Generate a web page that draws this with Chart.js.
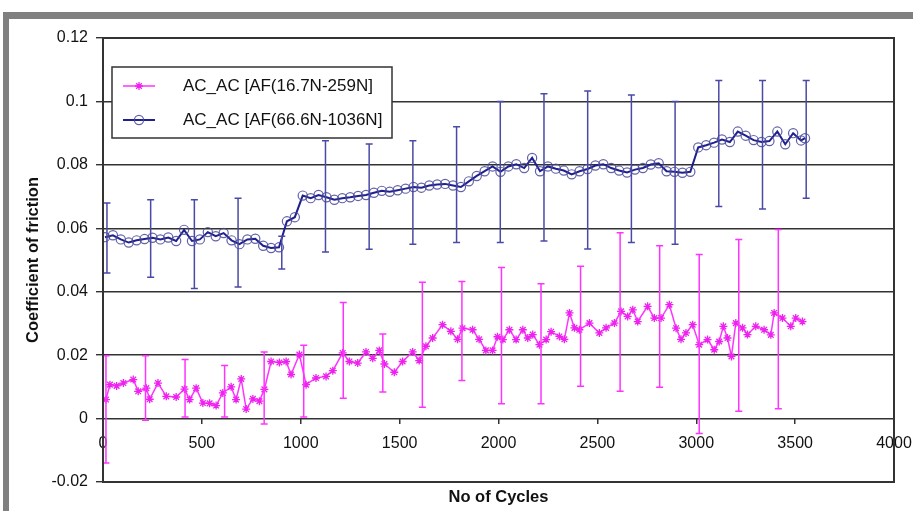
<!DOCTYPE html>
<html>
<head>
<meta charset="utf-8">
<script src="https://cdn.jsdelivr.net/npm/chart.js@4.4.0/dist/chart.umd.min.js"></script>
<style>
  body { margin: 0; background: #fff; }
  #frame { position: absolute; left: 3px; top: 12px; right: 0; bottom: 0;
           border-top: 7px solid #808080; border-left: 6px solid #808080; }
  #chart { position: absolute; left: 0; top: 0; }
</style>
</head>
<body>
<div id="frame"></div>
<canvas id="chart" width="913" height="511"></canvas>
<script>
// AC_AC [AF(16.7N-259N] -- pink series
let pinkCycles = [15,35,69,103,153,178,219,236,278,320,370,412,438,471,505,539,572,606,648,673,
  699,724,758,791,816,850,892,926,951,993,1027,1077,1128,1162,1212,1246,1288,1330,1364,1397,
  1423,1473,1515,1566,1599,1633,1667,1717,1759,1793,1818,1869,1902,1936,1970,1995,2022,2055,2089,2123,
  2148,2173,2207,2241,2266,2308,2333,2359,2384,2409,2460,2510,2544,2586,2620,2653,2679,2704,2754,2788,
  2822,2864,2898,2923,2948,2982,3015,3057,3091,3116,3137,3158,3178,3200,3234,3259,3301,3343,3377,3394,
  3436,3478,3503,3537];
let pinkCof = [0.006,0.0107,0.0103,0.0112,0.0123,0.0086,0.0096,0.0061,0.0112,0.007,
  0.0068,0.0093,0.006,0.0096,0.0049,0.0048,0.0041,0.0081,0.01,0.006,
  0.0125,0.003,0.0062,0.0055,0.0092,0.018,0.0177,0.018,0.0139,0.0202,
  0.0107,0.0128,0.0133,0.0151,0.0207,0.018,0.0175,0.021,0.019,0.0215,
  0.0172,0.0146,0.018,0.021,0.0183,0.0228,0.0254,0.0296,0.0275,0.025,
  0.0285,0.028,0.025,0.0215,0.0215,0.0258,0.0249,0.028,0.0249,0.028,
  0.0254,0.0265,0.0233,0.0249,0.0274,0.0259,0.025,0.0333,0.0286,0.028,
  0.0301,0.027,0.0286,0.0301,0.0338,0.0322,0.0343,0.0306,0.0354,0.0317,
  0.0317,0.0359,0.0285,0.025,0.027,0.0296,0.0233,0.0249,0.0217,0.0243,
  0.0291,0.0254,0.0196,0.0301,0.0286,0.0265,0.0291,0.028,0.0264,0.0333,
  0.0317,0.0291,0.0317,0.0306];

// AC_AC [AF(66.6N-1036N] -- blue series
let blueCycles = [10,50,90,130,170,210,250,290,330,370,410,450,490,530,570,610,650,690,730,770,
  810,850,890,930,970,1010,1050,1090,1130,1170,1210,1250,1290,1330,1370,1410,1450,1490,1530,1570,
  1610,1650,1690,1730,1770,1810,1850,1890,1930,1970,2010,2050,2090,2130,2170,2210,2250,2290,2330,2370,
  2410,2450,2490,2530,2570,2610,2650,2690,2730,2770,2810,2850,2890,2930,2970,3010,3050,3090,3130,3170,
  3210,3250,3290,3330,3370,3410,3450,3490,3530,3550];
let blueCof = [0.0572,0.0578,0.0565,0.0555,0.0562,0.0566,0.0570,0.0565,0.0571,0.0560,
  0.0595,0.0560,0.0565,0.0588,0.0575,0.0585,0.0562,0.0550,0.0565,0.0567,
  0.0545,0.0538,0.0540,0.0622,0.0635,0.0703,0.0695,0.0705,0.0698,0.0690,
  0.0695,0.0698,0.0702,0.0705,0.0712,0.0718,0.0715,0.0720,0.0725,0.0730,
  0.0728,0.0735,0.0738,0.0740,0.0735,0.0730,0.0748,0.0765,0.0780,0.0795,
  0.0778,0.0795,0.0802,0.0790,0.0822,0.0780,0.0795,0.0788,0.0782,0.0770,
  0.0780,0.0787,0.0798,0.0802,0.0790,0.0782,0.0776,0.0785,0.0790,0.0801,
  0.0805,0.0780,0.0778,0.0775,0.0778,0.0855,0.0862,0.0870,0.0880,0.0872,
  0.0905,0.0892,0.0878,0.0872,0.0875,0.0905,0.0865,0.0900,0.0877,0.0884];

// error bars
let pinkBarCycles = [15,215,415,615,815,1015,1215,1415,1615,1815,2015,2215,2415,2615,2815,3015,3215,3415];
let pinkBarHigh = [0.0198,0.0198,0.0186,0.0167,0.021,0.0231,0.0366,0.0267,0.043,0.0432,0.0476,0.0425,0.048,0.0586,0.0545,0.0517,0.0565,0.0596];
let pinkBarLow = [-0.014,-0.0005,0.0005,0.0005,-0.0017,0.0005,0.0064,0.0084,0.0036,0.012,0.0047,0.0047,0.0102,0.0086,0.0099,-0.0047,0.0023,0.0031];

let blueBarCycles = [20,241,462,683,904,1125,1346,1567,1788,2009,2230,2451,2672,2893,3114,3335,3556];
let blueBarHigh = [0.068,0.069,0.069,0.0695,0.0575,0.0876,0.0866,0.0876,0.092,0.1,0.1024,0.1033,0.102,0.1,0.1066,0.1066,0.1066];
let blueBarLow = [0.0459,0.0446,0.041,0.0415,0.0472,0.0525,0.0534,0.055,0.0555,0.0555,0.056,0.0535,0.0555,0.055,0.0669,0.0661,0.0695];

let seriesNames = ["AC_AC [AF(16.7N-259N]", "AC_AC [AF(66.6N-1036N]"];
let xTicks = [0, 500, 1000, 1500, 2000, 2500, 3000, 3500, 4000];
let yTicks = [-0.02, 0, 0.02, 0.04, 0.06, 0.08, 0.1, 0.12];

const FONT = "'Liberation Sans', Arial, sans-serif";
const pinkColor = "#ff33ff";
const blueLine = "#1f1f8f";
const bluePoint = "rgba(70,70,150,0.85)";
const blueBar = "#4a4aa6";

function toPoints(xs, ys) {
  return xs.map((x, i) => ({ x: x, y: ys[i] }));
}

function drawMarker(ctx, style, x, y, r, color, w) {
  ctx.save();
  ctx.strokeStyle = color;
  ctx.lineWidth = w;
  ctx.beginPath();
  if (style === "circle") {
    ctx.arc(x, y, r, 0, Math.PI * 2);
  } else {
    let d = r * Math.SQRT1_2;
    ctx.moveTo(x - r, y); ctx.lineTo(x + r, y);
    ctx.moveTo(x, y - r); ctx.lineTo(x, y + r);
    ctx.moveTo(x - d, y - d); ctx.lineTo(x + d, y + d);
    ctx.moveTo(x - d, y + d); ctx.lineTo(x + d, y - d);
  }
  ctx.stroke();
  ctx.restore();
}

// vertical error bars with caps, placed through the chart scales
const errorBars = {
  id: "errorBars",
  afterDatasetsDraw(chart) {
    const ctx = chart.ctx;
    const xs = chart.scales.x, ys = chart.scales.y;
    const sets = [
      [pinkBarCycles, pinkBarLow, pinkBarHigh, pinkColor],
      [blueBarCycles, blueBarLow, blueBarHigh, blueBar]
    ];
    ctx.save();
    ctx.lineWidth = 1.5;
    sets.forEach(s => {
      ctx.strokeStyle = s[3];
      for (let i = 0; i < s[0].length; i++) {
        let px = xs.getPixelForValue(s[0][i]);
        let lo = ys.getPixelForValue(s[1][i]);
        let hi = ys.getPixelForValue(s[2][i]);
        ctx.beginPath();
        ctx.moveTo(px, lo); ctx.lineTo(px, hi);
        ctx.moveTo(px - 3.5, lo); ctx.lineTo(px + 3.5, lo);
        ctx.moveTo(px - 3.5, hi); ctx.lineTo(px + 3.5, hi);
        ctx.stroke();
      }
    });
    ctx.restore();
  }
};

// plot frame and the boxed legend inside the plot
const frameAndLegend = {
  id: "frameAndLegend",
  afterDraw(chart) {
    const ctx = chart.ctx, a = chart.chartArea;
    ctx.save();
    ctx.strokeStyle = "#333";
    ctx.lineWidth = 2;
    ctx.strokeRect(a.left, a.top, a.right - a.left, a.bottom - a.top);

    let lx = a.left + 9, ly = a.top + 29, lw = 280, lh = 71;
    ctx.fillStyle = "#fff";
    ctx.fillRect(lx, ly, lw, lh);
    ctx.lineWidth = 1.5;
    ctx.strokeRect(lx, ly, lw, lh);
    chart.data.datasets.forEach((ds, i) => {
      let cy = ly + 19 + i * 34;
      ctx.strokeStyle = ds.borderColor;
      ctx.lineWidth = ds.borderWidth;
      ctx.beginPath();
      ctx.moveTo(lx + 11, cy); ctx.lineTo(lx + 43, cy);
      ctx.stroke();
      drawMarker(ctx, ds.pointStyle, lx + 27, cy, ds.pointRadius, ds.pointBorderColor, ds.pointBorderWidth);
      ctx.fillStyle = "#111";
      ctx.font = "17px " + FONT;
      ctx.textBaseline = "middle";
      ctx.textAlign = "left";
      ctx.fillText(ds.label, lx + 71, cy);
    });
    ctx.restore();
  }
};

Chart.defaults.font.family = FONT;
Chart.defaults.color = "#111";

new Chart(document.getElementById("chart"), {
  type: "line",
  data: {
    datasets: [
      {
        label: seriesNames[0],
        data: toPoints(pinkCycles, pinkCof),
        borderColor: pinkColor,
        borderWidth: 1.5,
        pointStyle: "star",
        pointRadius: 4,
        pointBorderWidth: 1.3,
        pointBorderColor: "#ee22ee",
        pointBackgroundColor: "#ee22ee",
        tension: 0
      },
      {
        label: seriesNames[1],
        data: toPoints(blueCycles, blueCof),
        borderColor: blueLine,
        borderWidth: 2,
        pointStyle: "circle",
        pointRadius: 4.6,
        pointBorderWidth: 1.2,
        pointBorderColor: bluePoint,
        pointBackgroundColor: "rgba(255,255,255,0)",
        tension: 0
      }
    ]
  },
  options: {
    responsive: false,
    animation: false,
    events: [],
    layout: { padding: { top: 38, right: 19, bottom: 0, left: 0 } },
    plugins: { legend: { display: false }, tooltip: { enabled: false } },
    scales: {
      x: {
        type: "linear",
        position: "bottom",
        min: 0, max: 4000,
        ticks: { display: false },
        grid: { display: false },
        border: { display: false },
        title: { display: true, text: "No of Cycles", font: { size: 16.5, weight: "bold" }, padding: { top: 0, bottom: 4 } },
        afterFit: s => { s.height = 29; s.paddingLeft = 0; s.paddingRight = 0; }
      },
      x2: {
        type: "linear",
        position: { y: 0 },
        min: 0, max: 4000,
        afterBuildTicks: s => { s.ticks = xTicks.map(v => ({ value: v })); },
        ticks: { autoSkip: false, maxRotation: 0, padding: 10, font: { size: 16 }, color: "#111", callback: v => String(v) },
        grid: { drawOnChartArea: false, drawTicks: true, tickLength: 5, color: "#333", lineWidth: 1.5 },
        border: { display: false },
        afterFit: s => { s.height = 0; s.paddingLeft = 0; s.paddingRight = 0; }
      },
      y: {
        position: "left",
        min: -0.02, max: 0.12,
        afterBuildTicks: s => { s.ticks = yTicks.map(v => ({ value: v })); },
        ticks: { padding: 8, font: { size: 16 }, color: "#111", callback: v => String(+v.toFixed(2)) },
        grid: { color: "#333", lineWidth: 1.4, drawTicks: true, tickLength: 7 },
        border: { display: true, color: "#333", width: 2 },
        title: { display: true, text: "Coefficient of friction", font: { size: 16.5, weight: "bold" }, padding: { top: 24, bottom: 0 } },
        afterFit: s => { s.width = 103; }
      }
    }
  },
  plugins: [errorBars, frameAndLegend]
});
</script>
</body>
</html>
